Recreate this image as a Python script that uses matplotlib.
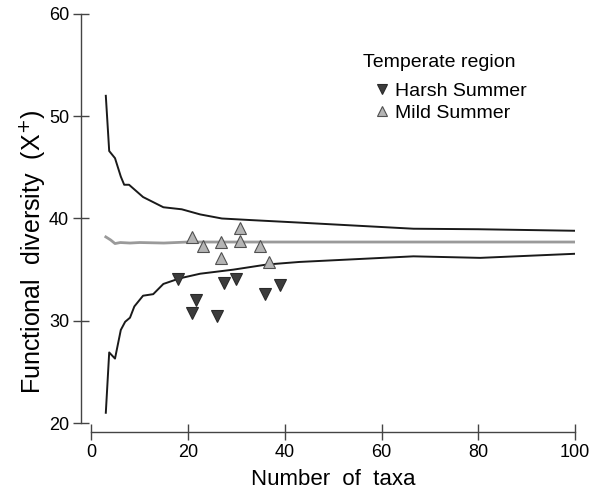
import matplotlib.pyplot as plt
from matplotlib.lines import Line2D

plt.rcParams['font.family'] = ['Liberation Sans', 'DejaVu Sans']

# null model envelope (upper / lower) and expected mean
upper_x = [3, 3.7, 4.9, 6.1, 6.8, 7.8, 10.7, 14.9, 18.7, 22.5, 27, 32.8, 43, 66.6, 80, 100]
upper_y = [52.0, 46.6, 45.9, 44.1, 43.3, 43.3, 42.1, 41.1, 40.9, 40.4, 40.0, 39.85, 39.6, 39.0, 38.95, 38.8]

lower_x = [3, 3.7, 4.9, 6.1, 7, 8, 8.9, 10.7, 12.8, 14.9, 18.3, 22.5, 29.4, 36.3, 43, 66.6, 80.4, 100]
lower_y = [21.0, 26.9, 26.3, 29.1, 29.9, 30.3, 31.4, 32.45, 32.6, 33.6, 34.15, 34.6, 35.0, 35.5, 35.75, 36.3, 36.15, 36.55]

mean_x = [3, 4, 4.9, 6, 8, 10, 15, 20, 30, 100]
mean_y = [38.2, 37.9, 37.55, 37.65, 37.6, 37.65, 37.6, 37.7, 37.7, 37.7]

# observed assemblages
harsh_x = [18.0, 21.6, 20.9, 25.9, 27.5, 29.85, 35.9, 39.0]
harsh_y = [34.1, 32.0, 30.8, 30.5, 33.65, 34.05, 32.6, 33.5]

mild_x = [20.9, 23.0, 26.8, 26.8, 30.8, 30.8, 34.9, 36.8]
mild_y = [38.2, 37.3, 37.7, 36.15, 39.05, 37.8, 37.3, 35.75]

x_ticks = [0, 20, 40, 60, 80, 100]
y_ticks = [20, 30, 40, 50, 60]

harsh_style = dict(marker='v', ls='none', ms=9, mfc='#3c3c3c', mec='#2a2a2a', mew=0.8)
mild_style = dict(marker='^', ls='none', ms=9, mfc='#b4b4b4', mec='#505050', mew=0.8)

fig = plt.figure(figsize=(5.93, 4.90), dpi=100)
ax = fig.add_axes([91.3 / 593, 67 / 490, 483.7 / 593, 409 / 490])

ax.plot(upper_x, upper_y, color='#1a1a1a', lw=1.4)
ax.plot(lower_x, lower_y, color='#1a1a1a', lw=1.4)
ax.plot(mean_x, mean_y, color='#9a9a9a', lw=2)

ax.plot(harsh_x, harsh_y, **harsh_style)
ax.plot(mild_x, mild_y, **mild_style)

ax.set_xlim(0, 100)
ax.set_ylim(20, 60)
ax.set_xticks(x_ticks)
ax.set_yticks(y_ticks)

for side in ['top', 'right']:
    ax.spines[side].set_visible(False)
ax.spines['left'].set_position(('outward', 7.2))
ax.spines['bottom'].set_position(('outward', 6.3))
ax.spines['left'].set_bounds(20, 60)
ax.spines['bottom'].set_bounds(0, 100)
for side in ['left', 'bottom']:
    ax.spines[side].set_color('#444444')
    ax.spines[side].set_linewidth(1)

ax.tick_params(direction='inout', length=11.5, width=1, color='#444444',
               labelsize=13, pad=3)

ax.set_xlabel('Number  of  taxa', fontsize=16, labelpad=6)
ax.set_ylabel('Functional  diversity  (X$^{+}$)', fontsize=18)
ax.yaxis.set_label_coords(-0.092, 0.418)

# legend: title drawn as its own text, items through ax.legend
fig.text(362.7 / 593, 1 - 66.7 / 490, 'Temperate region', fontsize=14, va='baseline')
handles = [Line2D([0], [0], **harsh_style), Line2D([0], [0], **mild_style)]
ax.legend(handles, ['Harsh Summer', 'Mild Summer'],
          loc='upper left', bbox_to_anchor=(372.6 / 593, 1 - 82 / 490),
          bbox_transform=fig.transFigure, frameon=False, fontsize=14,
          handlelength=1.0, handletextpad=0.15, labelspacing=0.25,
          borderpad=0, borderaxespad=0, markerscale=0.85)

fig.savefig('out.png', dpi=100)
